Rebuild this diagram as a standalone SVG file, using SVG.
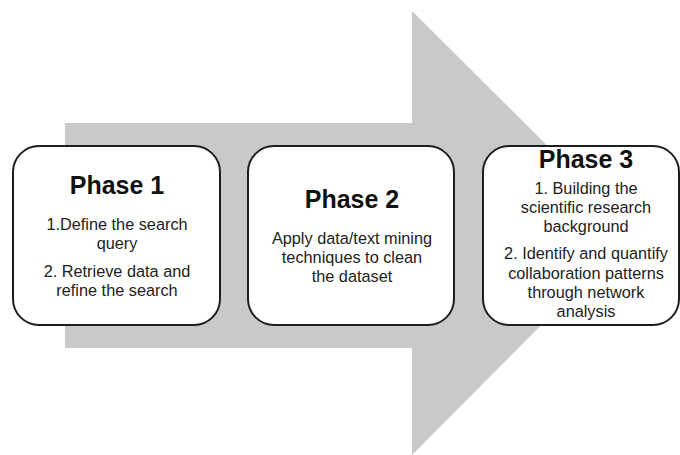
<svg xmlns="http://www.w3.org/2000/svg" width="680" height="455" viewBox="0 0 680 455">
<style>
.box{fill:#ffffff;stroke:#1e1e1e;stroke-width:2}
.t{font-family:"Liberation Sans",Arial,sans-serif;font-weight:bold;font-size:25px;fill:#111;text-anchor:middle}
.b{font-family:"Liberation Sans",Arial,sans-serif;font-size:16.3px;fill:#222;text-anchor:middle}
</style>
<rect width="680" height="455" fill="#ffffff"/>
<g id="connectors">
<polygon points="65,123 412,123 412,11 634,232 412,455 412,348 65,348" fill="#c9c9c9"/>
</g>
<g id="phase1">
<rect class="box" x="13" y="146" width="207" height="179" rx="26" ry="26"/>
<text class="t" x="117" y="194">Phase 1</text>
<text class="b" x="117" y="230">1.Define the search</text>
<text class="b" x="117" y="249">query</text>
<text class="b" x="117" y="277">2. Retrieve data and</text>
<text class="b" x="117" y="296">refine the search</text>
</g>
<g id="phase2">
<rect class="box" x="248" y="146" width="206" height="179" rx="26" ry="26"/>
<text class="t" x="352" y="208">Phase 2</text>
<text class="b" x="352" y="244">Apply data/text mining</text>
<text class="b" x="352" y="263">techniques to clean</text>
<text class="b" x="352" y="282">the dataset</text>
</g>
<g id="phase3">
<rect class="box" x="483" y="146" width="196" height="179" rx="26" ry="26"/>
<text class="t" x="586" y="168">Phase 3</text>
<text class="b" x="586" y="194">1. Building the</text>
<text class="b" x="586" y="213">scientific research</text>
<text class="b" x="586" y="232">background</text>
<text class="b" x="586" y="259">2. Identify and quantify</text>
<text class="b" x="586" y="279">collaboration patterns</text>
<text class="b" x="586" y="298">through network</text>
<text class="b" x="586" y="317">analysis</text>
</g>
</svg>
